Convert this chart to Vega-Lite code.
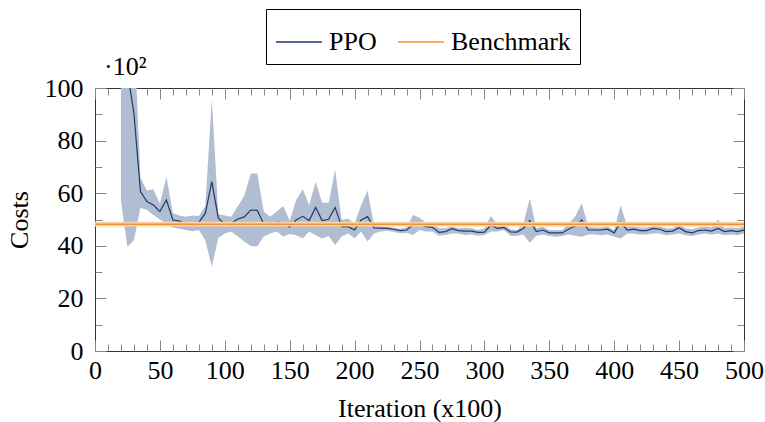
{
  "$schema": "https://vega.github.io/schema/vega-lite/v6.json",
  "width": 649,
  "height": 263,
  "autosize": {"type": "none"},
  "padding": {"left": 95, "top": 88, "right": 21, "bottom": 71},
  "background": "white",
  "config": {
    "view": {"stroke": "#333333", "strokeWidth": 1},
    "axis": {
      "labelFontSize": 26,
      "titleFontSize": 26,
      "titleFontWeight": "normal",
      "labelColor": "#000000",
      "titleColor": "#000000",
      "tickColor": "#888888",
      "tickWidth": 1,
      "domain": false,
      "grid": false
    }
  },
  "datasets": {
    "ppo": [
      {"x": 20, "m": 120, "lo": 57, "hi": 160},
      {"x": 25, "m": 106, "lo": 39.5, "hi": 160},
      {"x": 30, "m": 90.4, "lo": 42.2, "hi": 123},
      {"x": 35, "m": 60.6, "lo": 54.5, "hi": 66},
      {"x": 40, "m": 56.8, "lo": 53.6, "hi": 61},
      {"x": 45, "m": 55.5, "lo": 51.7, "hi": 61.5},
      {"x": 50, "m": 53, "lo": 50, "hi": 56},
      {"x": 55, "m": 57.4, "lo": 48.5, "hi": 66.3},
      {"x": 60, "m": 49.8, "lo": 47, "hi": 52.5},
      {"x": 65, "m": 49.4, "lo": 46.5, "hi": 51.5},
      {"x": 70, "m": 48.2, "lo": 46, "hi": 51},
      {"x": 75, "m": 48.8, "lo": 45.5, "hi": 51.5},
      {"x": 80, "m": 48.9, "lo": 46, "hi": 51.3},
      {"x": 85, "m": 52.4, "lo": 42, "hi": 55},
      {"x": 90, "m": 64.4, "lo": 32, "hi": 96},
      {"x": 95, "m": 50.5, "lo": 43, "hi": 52},
      {"x": 100, "m": 48.2, "lo": 44.7, "hi": 51.5},
      {"x": 105, "m": 48.6, "lo": 45.4, "hi": 51},
      {"x": 110, "m": 50.2, "lo": 43.5, "hi": 55},
      {"x": 115, "m": 51, "lo": 41.6, "hi": 59},
      {"x": 120, "m": 53.6, "lo": 39.9, "hi": 67.5},
      {"x": 125, "m": 53.5, "lo": 39.7, "hi": 67.5},
      {"x": 130, "m": 48.3, "lo": 43.5, "hi": 53},
      {"x": 135, "m": 47.8, "lo": 44.7, "hi": 51},
      {"x": 140, "m": 49, "lo": 45.4, "hi": 53},
      {"x": 145, "m": 48.7, "lo": 43.5, "hi": 55.1},
      {"x": 150, "m": 47.2, "lo": 44.5, "hi": 49.5},
      {"x": 155, "m": 49.8, "lo": 44, "hi": 57.4},
      {"x": 160, "m": 51.2, "lo": 42.8, "hi": 61.5},
      {"x": 165, "m": 49.6, "lo": 45.4, "hi": 55.5},
      {"x": 170, "m": 54.6, "lo": 44, "hi": 64.4},
      {"x": 175, "m": 49.6, "lo": 42.8, "hi": 56.4},
      {"x": 180, "m": 50.1, "lo": 43.7, "hi": 56.4},
      {"x": 185, "m": 54.6, "lo": 40.3, "hi": 68.8},
      {"x": 190, "m": 47.3, "lo": 43.5, "hi": 49.8},
      {"x": 195, "m": 47.3, "lo": 44.7, "hi": 50.4},
      {"x": 200, "m": 46, "lo": 42.8, "hi": 48.5},
      {"x": 205, "m": 49.8, "lo": 45.4, "hi": 55.4},
      {"x": 210, "m": 51.1, "lo": 41.6, "hi": 61},
      {"x": 215, "m": 46.8, "lo": 44.7, "hi": 47.5},
      {"x": 220, "m": 46.7, "lo": 45.4, "hi": 47.3},
      {"x": 225, "m": 46.6, "lo": 45.7, "hi": 47.2},
      {"x": 230, "m": 46.3, "lo": 45.3, "hi": 47},
      {"x": 235, "m": 45.8, "lo": 44.8, "hi": 46.5},
      {"x": 240, "m": 46, "lo": 45, "hi": 47},
      {"x": 245, "m": 48, "lo": 44.1, "hi": 51.7},
      {"x": 250, "m": 48.3, "lo": 46, "hi": 50.7},
      {"x": 255, "m": 47.3, "lo": 45.4, "hi": 48.8},
      {"x": 260, "m": 47, "lo": 45.4, "hi": 48.3},
      {"x": 265, "m": 45.1, "lo": 43.8, "hi": 46.7},
      {"x": 270, "m": 45.4, "lo": 44.1, "hi": 46.7},
      {"x": 275, "m": 46.5, "lo": 44.7, "hi": 47.3},
      {"x": 280, "m": 45.8, "lo": 44.7, "hi": 46.7},
      {"x": 285, "m": 45.6, "lo": 44.1, "hi": 46.9},
      {"x": 290, "m": 45.6, "lo": 44.3, "hi": 46.7},
      {"x": 295, "m": 45.1, "lo": 43.8, "hi": 46},
      {"x": 300, "m": 45.2, "lo": 44.1, "hi": 46.7},
      {"x": 305, "m": 47.9, "lo": 45.4, "hi": 51.3},
      {"x": 310, "m": 46.6, "lo": 45.4, "hi": 48.3},
      {"x": 315, "m": 47, "lo": 46, "hi": 48.3},
      {"x": 320, "m": 45.3, "lo": 43.8, "hi": 46.3},
      {"x": 325, "m": 45.2, "lo": 43.8, "hi": 46},
      {"x": 330, "m": 46.6, "lo": 44.3, "hi": 48.3},
      {"x": 335, "m": 49.6, "lo": 41.2, "hi": 58},
      {"x": 340, "m": 45.4, "lo": 43.8, "hi": 46.7},
      {"x": 345, "m": 46, "lo": 44.3, "hi": 47.2},
      {"x": 350, "m": 44.9, "lo": 43.7, "hi": 46},
      {"x": 355, "m": 44.9, "lo": 43.4, "hi": 46},
      {"x": 360, "m": 44.9, "lo": 43.7, "hi": 46},
      {"x": 365, "m": 46.4, "lo": 44.3, "hi": 48.5},
      {"x": 370, "m": 47.5, "lo": 43.8, "hi": 51.1},
      {"x": 375, "m": 49.8, "lo": 43.4, "hi": 56.2},
      {"x": 380, "m": 46, "lo": 44.3, "hi": 47.3},
      {"x": 385, "m": 46, "lo": 44.3, "hi": 47},
      {"x": 390, "m": 46, "lo": 44, "hi": 47},
      {"x": 395, "m": 46.3, "lo": 44.3, "hi": 47.3},
      {"x": 400, "m": 44.9, "lo": 43.4, "hi": 46},
      {"x": 405, "m": 49, "lo": 42.8, "hi": 55.4},
      {"x": 410, "m": 46, "lo": 44.7, "hi": 47.3},
      {"x": 415, "m": 46.3, "lo": 44.7, "hi": 47.3},
      {"x": 420, "m": 45.8, "lo": 44.3, "hi": 47},
      {"x": 425, "m": 45.8, "lo": 44.3, "hi": 47},
      {"x": 430, "m": 46.6, "lo": 44.7, "hi": 47.5},
      {"x": 435, "m": 46.3, "lo": 44.7, "hi": 47.3},
      {"x": 440, "m": 45.4, "lo": 44, "hi": 46.7},
      {"x": 445, "m": 45.6, "lo": 44.3, "hi": 46.7},
      {"x": 450, "m": 46.9, "lo": 44.7, "hi": 48},
      {"x": 455, "m": 45.4, "lo": 44, "hi": 46.7},
      {"x": 460, "m": 44.9, "lo": 43.7, "hi": 46.3},
      {"x": 465, "m": 45.8, "lo": 44.3, "hi": 47},
      {"x": 470, "m": 46, "lo": 44.7, "hi": 47.2},
      {"x": 475, "m": 45.6, "lo": 44.3, "hi": 47},
      {"x": 480, "m": 46.6, "lo": 44.7, "hi": 50},
      {"x": 485, "m": 45.4, "lo": 44, "hi": 46.7},
      {"x": 490, "m": 45.8, "lo": 44.3, "hi": 47},
      {"x": 495, "m": 45.4, "lo": 44, "hi": 46.7},
      {"x": 500, "m": 46, "lo": 44.7, "hi": 47.3}
    ],
    "bench": [
      {"x": 0, "m": 48.2, "lo": 47.3, "hi": 49.1},
      {"x": 500, "m": 48.2, "lo": 47.3, "hi": 49.1}
    ],
    "note": [
      {"label": "·10²", "x": 0, "y": 100}
    ]
  },
  "layer": [
    {
      "data": {"name": "ppo"},
      "mark": {"type": "area", "fill": "#b1bdd0", "clip": true},
      "encoding": {
        "x": {
          "field": "x", "type": "quantitative",
          "scale": {"domain": [0, 500], "nice": false, "zero": false},
          "axis": {"orient": "bottom", "labelFont": "Times New Roman", "titleFont": "Times New Roman", "values": [0, 50, 100, 150, 200, 250, 300, 350, 400, 450, 500], "offset": -11, "tickSize": 11, "labelPadding": 6, "labelFlush": false, "title": "Iteration (x100)", "titlePadding": 12}
        },
        "y": {
          "field": "lo", "type": "quantitative",
          "scale": {"domain": [0, 100], "nice": false, "zero": false},
          "axis": {"orient": "left", "labelFont": "Times New Roman", "titleFont": "Times New Roman", "values": [0, 20, 40, 60, 80, 100], "offset": -11, "tickSize": 11, "labelPadding": 12, "labelFlush": false, "title": "Costs", "titlePadding": 12}
        },
        "y2": {"field": "hi"}
      }
    },
    {
      "data": {"name": "ppo"},
      "mark": {"type": "line", "strokeWidth": 1.2, "clip": true},
      "encoding": {
        "x": {
          "field": "x", "type": "quantitative",
          "axis": {"orient": "bottom", "values": [10, 20, 30, 40, 60, 70, 80, 90, 110, 120, 130, 140, 160, 170, 180, 190, 210, 220, 230, 240, 260, 270, 280, 290, 310, 320, 330, 340, 360, 370, 380, 390, 410, 420, 430, 440, 460, 470, 480, 490], "offset": -7, "tickSize": 7, "labels": false, "title": null}
        },
        "y": {
          "field": "m", "type": "quantitative",
          "axis": {"orient": "left", "values": [10, 30, 50, 70, 90], "offset": -7, "tickSize": 7, "labels": false, "title": null}
        },
        "color": {
          "datum": "PPO", "type": "nominal",
          "scale": {"domain": ["PPO", "Benchmark"], "range": ["#1f3a6b", "#f5922f"]},
          "legend": {
            "orient": "none", "legendX": 171, "legendY": -79, "direction": "horizontal", "title": null,
            "symbolType": "stroke", "symbolSize": 2116, "symbolStrokeWidth": 1.5,
            "labelFont": "Times New Roman", "labelFontSize": 26, "labelColor": "#000000", "labelOffset": 6,
            "columnPadding": 18, "padding": 9, "strokeColor": "#000000", "fillColor": "#ffffff", "cornerRadius": 0
          }
        }
      }
    },
    {
      "data": {"name": "bench"},
      "mark": {"type": "area", "fill": "#fcd3a6", "clip": true},
      "encoding": {
        "x": {
          "field": "x", "type": "quantitative",
          "axis": {"orient": "top", "values": [0, 50, 100, 150, 200, 250, 300, 350, 400, 450, 500], "offset": -11, "tickSize": 11, "labels": false, "title": null}
        },
        "y": {
          "field": "lo", "type": "quantitative",
          "axis": {"orient": "right", "values": [0, 20, 40, 60, 80, 100], "offset": -11, "tickSize": 11, "labels": false, "title": null}
        },
        "y2": {"field": "hi"}
      }
    },
    {
      "data": {"name": "bench"},
      "mark": {"type": "line", "strokeWidth": 1.5, "clip": true},
      "encoding": {
        "x": {
          "field": "x", "type": "quantitative",
          "axis": {"orient": "top", "values": [10, 20, 30, 40, 60, 70, 80, 90, 110, 120, 130, 140, 160, 170, 180, 190, 210, 220, 230, 240, 260, 270, 280, 290, 310, 320, 330, 340, 360, 370, 380, 390, 410, 420, 430, 440, 460, 470, 480, 490], "offset": -7, "tickSize": 7, "labels": false, "title": null}
        },
        "y": {
          "field": "m", "type": "quantitative",
          "axis": {"orient": "right", "values": [10, 30, 50, 70, 90], "offset": -7, "tickSize": 7, "labels": false, "title": null}
        },
        "color": {"datum": "Benchmark", "type": "nominal"}
      }
    },
    {
      "data": {"name": "note"},
      "mark": {"type": "text", "align": "left", "baseline": "alphabetic", "dx": 9, "dy": -13, "fontSize": 26, "font": "Times New Roman", "color": "#000000"},
      "encoding": {
        "x": {"field": "x", "type": "quantitative", "axis": null},
        "y": {"field": "y", "type": "quantitative", "axis": null},
        "text": {"field": "label"}
      }
    }
  ],
  "resolve": {"axis": {"x": "independent", "y": "independent"}}
}
